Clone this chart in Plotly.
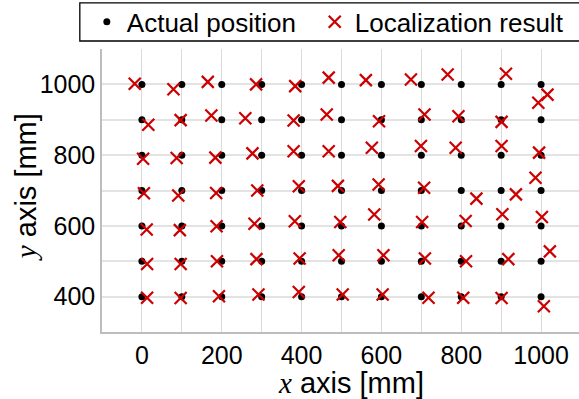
import plotly.graph_objects as go

# Actual grid positions (mm)
grid_x = [0, 100, 200, 300, 400, 500, 600, 700, 800, 900, 1000]
grid_y = [1000, 900, 800, 700, 600, 500, 400]

# Localization results (mm), row by row (y = 1000 ... 400), columns x = 0 ... 1000
est_x_1000 = [-18, 79, 165, 286, 384, 468, 561, 674, 766, 912, 1016]
est_y_1000 = [1002, 986, 1007, 1000, 995, 1019, 1012, 1014, 1028, 1030, 971]
est_x_900 = [16, 97, 174, 259, 380, 463, 594, 708, 793, 901, 993]
est_y_900 = [886, 899, 912, 904, 898, 915, 896, 915, 910, 894, 948]
est_x_800 = [3, 87, 184, 277, 380, 468, 576, 699, 786, 901, 995]
est_y_800 = [790, 792, 793, 805, 811, 811, 821, 826, 821, 826, 807]
est_x_700 = [5, 91, 186, 289, 393, 491, 593, 707, 838, 937, 986]
est_y_700 = [692, 686, 693, 700, 712, 713, 717, 708, 677, 689, 736]
est_x_600 = [12, 95, 187, 282, 383, 497, 582, 702, 811, 903, 1002]
est_y_600 = [590, 588, 599, 606, 613, 611, 632, 611, 614, 633, 625]
est_x_500 = [13, 97, 188, 287, 395, 493, 605, 709, 812, 918, 1022]
est_y_500 = [492, 492, 500, 506, 508, 517, 517, 508, 500, 506, 528]
est_x_400 = [13, 97, 193, 292, 393, 503, 603, 718, 805, 901, 1007]
est_y_400 = [397, 396, 401, 406, 413, 406, 406, 397, 397, 396, 373]

x_ticks = [0, 200, 400, 600, 800, 1000]
y_ticks = [400, 600, 800, 1000]

actual_x = [gx for gy in grid_y for gx in grid_x]
actual_y = [gy for gy in grid_y for gx in grid_x]
est_x = est_x_1000 + est_x_900 + est_x_800 + est_x_700 + est_x_600 + est_x_500 + est_x_400
est_y = est_y_1000 + est_y_900 + est_y_800 + est_y_700 + est_y_600 + est_y_500 + est_y_400

FONT = "Liberation Sans, Arial, sans-serif"
SERIF = "Liberation Serif"

fig = go.Figure()
fig.add_trace(go.Scatter(
    x=actual_x, y=actual_y, mode="markers", name="Actual position",
    marker=dict(symbol="circle", size=7, color="black"), legend="legend",
))
fig.add_trace(go.Scatter(
    x=est_x, y=est_y, mode="markers", name="Localization result",
    marker=dict(symbol="x-thin", size=12, color="#cc0000",
                line=dict(width=2.2, color="#cc0000")), legend="legend2",
))

grid_col = "#dadada"
fig.update_xaxes(
    range=[-100, 1095], tickvals=x_ticks, ticktext=[str(v) for v in x_ticks],
    showgrid=True, gridcolor=grid_col, gridwidth=1,
    minor=dict(dtick=100, tick0=0, showgrid=True, gridcolor=grid_col, gridwidth=1),
    showline=True, linecolor="#bdbdbd", linewidth=1.5,
    zeroline=False, ticks="", tickfont=dict(family=FONT, size=25, color="black"),
)
fig.update_yaxes(
    range=[300, 1100], tickvals=y_ticks, ticktext=[str(v) for v in y_ticks],
    showgrid=True, gridcolor="#e3e3e3", gridwidth=1.5,
    minor=dict(dtick=100, tick0=0, showgrid=True, gridcolor="#e3e3e3", gridwidth=1.5),
    showline=True, linecolor="#bdbdbd", linewidth=1.5,
    zeroline=False, ticks="", tickfont=dict(family=FONT, size=25, color="black"),
)

fig.add_shape(type="rect", xref="paper", yref="paper",
              x0=-0.0465, x1=1.05, y0=1.0283, y1=1.163,
              line=dict(color="black", width=1.3), fillcolor="rgba(0,0,0,0)")

fig.add_annotation(
    text=f"<span style=\"font-family:{SERIF};font-style:italic\">x</span> axis [mm]",
    xref="paper", yref="paper", x=0.5225, y=-0.181, xanchor="center", yanchor="middle",
    borderpad=0, showarrow=False, font=dict(family=FONT, size=29, color="black"))
fig.add_annotation(
    text=f"<span style=\"font-family:{SERIF};font-style:italic\">y</span> axis [mm]",
    xref="paper", yref="paper", x=-0.160, y=0.5106, xanchor="center", yanchor="middle",
    textangle=-90, showarrow=False, font=dict(family=FONT, size=29, color="black"))

legend_common = dict(orientation="h", xanchor="left", y=1.0956, yanchor="middle",
                     bgcolor="rgba(0,0,0,0)", borderwidth=0,
                     font=dict(family=FONT, size=26, color="black"))

fig.update_layout(
    width=579, height=399,
    margin=dict(l=101.5, r=0, t=49.3, b=67.3, pad=0, autoexpand=False),
    paper_bgcolor="white", plot_bgcolor="white",
    showlegend=True,
    legend=dict(x=-0.0318, **legend_common),
    legend2=dict(x=0.446, **legend_common),
)

fig.write_html("out.html", config={"displayModeBar": False},
               post_script="document.body.style.margin='0';")
